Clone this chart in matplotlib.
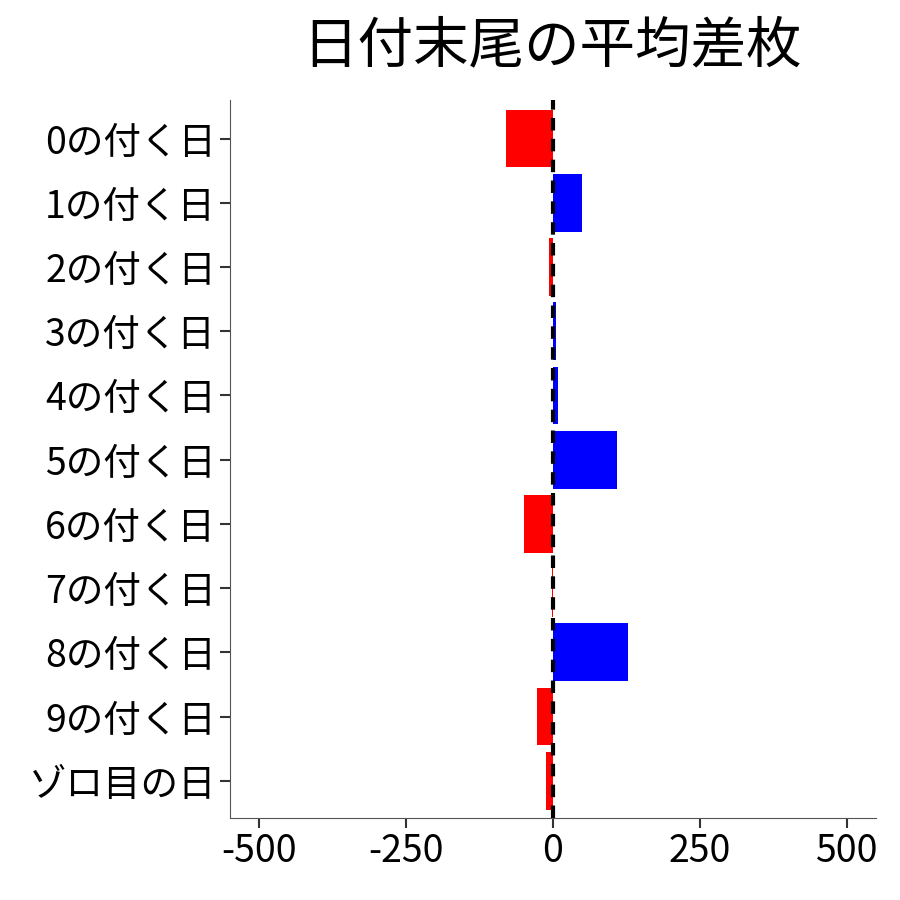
import matplotlib
matplotlib.use("Agg")
import matplotlib.pyplot as plt

plt.rcParams['font.family'] = ['Noto Sans CJK JP', 'DejaVu Sans']

categories = ["0の付く日", "1の付く日", "2の付く日", "3の付く日", "4の付く日",
              "5の付く日", "6の付く日", "7の付く日", "8の付く日", "9の付く日", "ゾロ目の日"]
values = [-80, 49, -7, 5, 8, 109, -49, -2, 128, -27, -12]
xticks = [-500, -250, 0, 250, 500]
xticklabels = ["-500", "-250", "0", "250", "500"]

fig = plt.figure(figsize=(9, 9), dpi=100)
ax = fig.add_axes([230/900, 1-818/900, (876-230)/900, (818-100)/900])
colors = ["blue" if v > 0 else "red" for v in values]
ax.barh(range(len(categories)), values, height=0.9, color=colors)
ax.axvline(0, color="black", linestyle=(0, (3, 2)), linewidth=3)
ax.set_xlim(-550, 550)
ax.set_ylim(len(categories) - 0.42, -0.6)
ax.set_yticks(range(len(categories)))
ax.set_yticklabels(categories, fontsize=27)
ax.set_xticks(xticks)
ax.set_xticklabels(xticklabels, fontsize=27)
ax.tick_params(direction="out", length=7, width=1.5, color="#333333", pad=3)
for s in ["top", "right"]:
    ax.spines[s].set_visible(False)
for s in ["left", "bottom"]:
    ax.spines[s].set_color("#555555")
fig.text(0.613, 0.948, "日付末尾の平均差枚", ha="center", va="center", fontsize=40)
fig.savefig("out.png", dpi=100)
